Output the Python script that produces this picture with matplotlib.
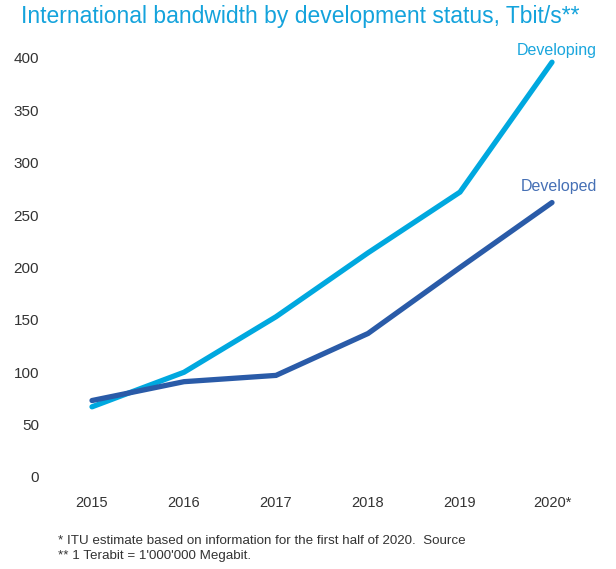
import matplotlib
matplotlib.use("Agg")
import matplotlib.pyplot as plt

years = [2015, 2016, 2017, 2018, 2019, 2020]
year_labels = ["2015", "2016", "2017", "2018", "2019", "2020*"]
developing = [67, 100, 153, 214, 272, 396]
developed = [73, 91, 97, 137, 200, 262]
yticks = [0, 50, 100, 150, 200, 250, 300, 350, 400]

plt.rcParams['font.family'] = ['Liberation Sans', 'DejaVu Sans']

W, H = 616, 569
fig = plt.figure(figsize=(W / 100, H / 100), dpi=100)
L, R, T, B = 50, 600, 40, 490
ax = fig.add_axes([L / W, (H - B) / H, (R - L) / W, (B - T) / H])

c_dev = "#00a8df"
c_ed = "#2a5ba8"
ax.plot(years, developing, color=c_dev, lw=3.8, solid_capstyle='round', solid_joinstyle='miter')
ax.plot(years, developed, color=c_ed, lw=3.8, solid_capstyle='round', solid_joinstyle='miter')

x0 = 2015 - (92 - L) / 92
ax.set_xlim(x0, x0 + (R - L) / 92)
ax.set_ylim((477 - B) / 1.0475, (477 - T) / 1.0475)
ax.set_xticks(years)
ax.set_xticklabels(year_labels)
ax.set_yticks(yticks)
ax.tick_params(length=0, colors="#333333")
ax.tick_params(axis='y', pad=8, labelsize=11)
ax.tick_params(axis='x', pad=4, labelsize=10.5)
for s in ax.spines.values():
    s.set_visible(False)

fig.text(21 / W, 1 - 16 / H, "International bandwidth by development status, Tbit/s**",
         color="#14a3dc", fontsize=16.5, ha='left', va='center')
fig.text(597 / W, 1 - 50 / H, "Developing", color="#1aa6dd", fontsize=11.5, ha='right', va='center')
fig.text(597 / W, 1 - 187 / H, "Developed", color="#4670b5", fontsize=11.5, ha='right', va='center')
fig.text(58 / W, 1 - 541 / H, "* ITU estimate based on information for the first half of 2020.  Source",
         color="#333333", fontsize=9.6, ha='left', va='center')
fig.text(58 / W, 1 - 556 / H, "** 1 Terabit = 1'000'000 Megabit.",
         color="#333333", fontsize=9.6, ha='left', va='center')

fig.savefig("out.png", dpi=100)
